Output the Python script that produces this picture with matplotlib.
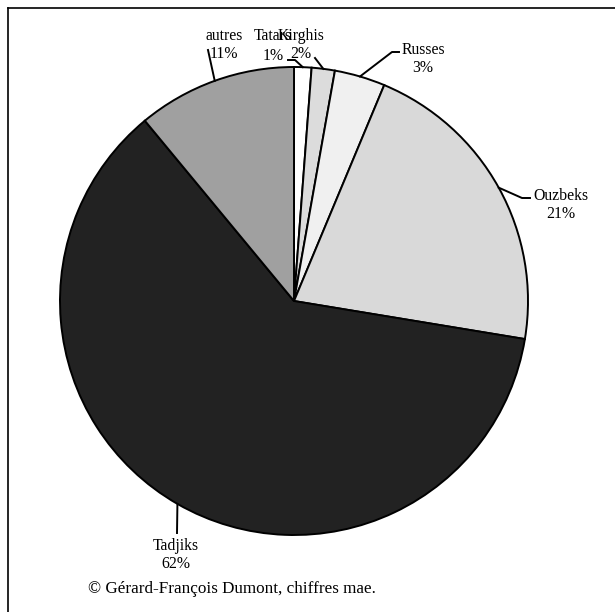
import matplotlib
matplotlib.use("Agg")
import matplotlib.pyplot as plt
import numpy as np
from matplotlib.lines import Line2D

# ---- data ----
categories = ["Tatars", "Kirghis", "Russes", "Ouzbeks", "Tadjiks", "autres"]
values = [1.2, 1.6, 3.5, 21.3, 61.4, 11.0]
pct_labels = ["1%", "2%", "3%", "21%", "62%", "11%"]
colors = ["#ffffff", "#dcdcdc", "#f0f0f0", "#d9d9d9", "#222222", "#a0a0a0"]
source = "© Gérard-François Dumont, chiffres mae."

W, H = 615, 612
fig = plt.figure(figsize=(W / 100, H / 100), dpi=100)
ax = fig.add_axes([0, 0, 1, 1])

def P(x, y):
    return (x, H - y)

cx, cy = P(294, 301)
R = 234
wedges, _ = ax.pie(values, colors=colors, startangle=90, counterclock=False,
                   center=(cx, cy), radius=R,
                   wedgeprops=dict(edgecolor="black", linewidth=1.4))
ax.set_xlim(0, W)
ax.set_ylim(0, H)
ax.set_aspect("equal")
ax.axis("off")

# label layout: (text center px, leader path points px after arc point)
layout = {
    "Tatars": ((273, 46), [(295, 60), (288, 60)]),
    "Kirghis": ((301, 45), [(315, 58)]),
    "Russes": ((423, 59), [(392, 52), (399, 52)]),
    "Ouzbeks": ((561, 205), [(522, 198), (530, 198)]),
    "Tadjiks": ((176, 555), [(177, 533)]),
    "autres": ((224, 45), [(208, 50)]),
}

font = dict(family=["Liberation Serif", "DejaVu Serif"], fontsize=11.3)
for w, cat, pl in zip(wedges, categories, pct_labels):
    mid = np.deg2rad((w.theta1 + w.theta2) / 2)
    ax0 = cx + R * np.cos(mid)
    ay0 = cy + R * np.sin(mid)
    (tx, ty), path = layout[cat]
    xs = [ax0] + [P(*p)[0] for p in path]
    ys = [ay0] + [P(*p)[1] for p in path]
    ax.add_line(Line2D(xs, ys, color="black", linewidth=1.4))
    ax.text(*P(tx, ty), f"{cat}\n{pl}", ha="center", va="center",
            linespacing=1.25, **font)

ax.text(*P(88, 589), source, ha="left", va="center",
        family=["Liberation Serif", "DejaVu Serif"], fontsize=12.3)

# frame lines (top and left)
ax.add_line(Line2D([P(8, 8)[0], P(615, 8)[0]], [P(8, 8)[1], P(615, 8)[1]],
                   color="black", linewidth=1.2))
ax.add_line(Line2D([P(8, 8)[0], P(8, 612)[0]], [P(8, 8)[1], P(8, 612)[1]],
                   color="black", linewidth=1.2))

fig.savefig("out.png", dpi=100)
